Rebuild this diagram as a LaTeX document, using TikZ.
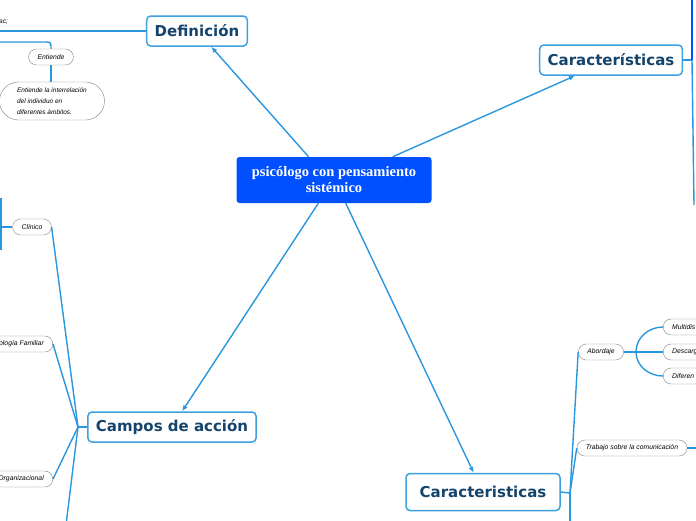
\documentclass[tikz,border=0pt]{standalone}
\usepackage{fontspec}
\setmainfont{Liberation Serif}
\setsansfont{DejaVu Sans}
\newfontfamily\notefont{Liberation Sans}
\usepackage{tikz}
\usetikzlibrary{arrows.meta,positioning,calc}
\definecolor{linkblue}{RGB}{42,150,222}
\definecolor{topicline}{RGB}{60,160,225}
\definecolor{topictext}{RGB}{20,68,108}
\definecolor{centralfill}{RGB}{0,80,255}
\definecolor{pillline}{RGB}{130,130,130}

\begin{document}
\begin{tikzpicture}[x=1pt, y=-1pt, >={Latex[length=6pt,width=5pt]},
  topic/.style={draw=topicline, line width=1.5pt, rounded corners=4pt, fill=white, text=topictext, font=\sffamily\bfseries\fontsize{15}{17}\selectfont, inner xsep=8pt, minimum height=30pt},
  central/.style={fill=centralfill, rounded corners=3pt, text=white, align=center, font=\bfseries\fontsize{14.5}{16}\selectfont, minimum width=195pt, minimum height=46pt},
  pill/.style={draw=pillline, rounded corners=8pt, fill=white, font=\notefont\itshape\fontsize{6.8}{9}\selectfont, minimum height=16pt, inner xsep=9pt},
  link/.style={draw=linkblue, line width=1.4pt}]
  \useasboundingbox (0,0) rectangle (696,520);
  \clip (0,0) rectangle (696,520);

  % main topics
  \node[central] (root) at (334,180) {psicólogo con pensamiento\\sistémico};
  \node[topic] (defin) at (197,31) {Definición};
  \node[topic] (caractA) at (611,60) {Características};
  \node[topic] (campos) at (172,427) {Campos de acción};
  \node[topic, minimum height=37pt, minimum width=154pt] (caractB) at (483,492) {Caracteristicas};

  \draw[link,->] ($(root.north west)!0.37!(root.north east)$) -- ($(defin.south west)!0.64!(defin.south east)$);
  \draw[link,->] ($(root.north west)!0.8!(root.north east)$) -- ($(caractA.south west)!0.25!(caractA.south east)$);
  \draw[link,->] ($(root.south west)!0.42!(root.south east)$) -- ($(campos.north west)!0.56!(campos.north east)$);
  \draw[link,->] ($(root.south west)!0.56!(root.south east)$) -- ($(caractB.north west)!0.44!(caractB.north east)$);

  % Definición
  \node[font=\notefont\itshape\fontsize{6.5}{8}\selectfont, anchor=west, inner sep=0pt] (fragm) at (-1,22) {ac;};
  \draw[link] (defin.west) -- (-5,31);
  \node[pill] (entiende) at (51,57) {Entiende};
  \node[pill, align=left, rounded corners=19pt, minimum height=38pt, minimum width=105pt, font=\notefont\itshape\fontsize{6.5}{11}\selectfont] (entiendeTxt) at (52,101) {Entiende la interrelación\\del individuo en\\diferentes ámbitos.};
  \draw[link] (-5,42) -- (44,42) .. controls (51,42) .. (entiende.north);
  \draw[link] (entiende.south) -- (entiende.south |- entiendeTxt.north);

  % Campos de acción
  \coordinate (camposHub) at (78,427);
  \node[pill] (clinico) at (32,227) {Clínico};
  \node[pill, anchor=east] (familiar) at (53,344) {ología Familiar};
  \node[pill, anchor=east] (organiz) at (53,479) {Organizacional};
  \draw[link] (campos.west) -- (camposHub);
  \draw[link] (camposHub) -- (clinico.east);
  \draw[link] (camposHub) -- (familiar.east);
  \draw[link] (camposHub) -- (organiz.east);
  \draw[link] (camposHub) -- (66,525);
  \draw[link] (clinico.west) -- (-5,227);
  \draw[link] (1,198) -- (1,250);

  % Características (arriba)
  \coordinate (caractAHub) at (692,60);
  \draw[link] (caractA.east) -- (caractAHub);
  \draw[draw=centralfill, line width=1.4pt] (caractAHub) -- (692,-5);
  \draw[link] (caractAHub) -- (694,205);

  % Caracteristicas (abajo)
  \coordinate (caractBHub) at (570,493);
  \node[pill] (abordaje) at (601,352) {Abordaje};
  \node[pill] (trabajo) at (632,448) {Trabajo sobre la comunicación};
  \draw[link] (caractB.east) -- (caractBHub);
  \draw[link] (caractBHub) -- (abordaje.west);
  \draw[link] (caractBHub) -- (trabajo.west);
  \draw[link] (caractBHub) -- (570,525);
  \draw[link] (trabajo.east) -- (700,448);

  \coordinate (abordHub) at (636,352);
  \node[pill, anchor=west] (multi) at (663,327) {Multidis};
  \node[pill, anchor=west] (descarga) at (663,352) {Descarga};
  \node[pill, anchor=west] (diferen) at (663,376) {Diferen};
  \draw[link] (abordaje.east) -- (abordHub);
  \draw[link] (abordHub) to[out=90, in=180] (multi.west);
  \draw[link] (abordHub) -- (descarga.west);
  \draw[link] (abordHub) to[out=-90, in=180] (diferen.west);
\end{tikzpicture}
\end{document}
